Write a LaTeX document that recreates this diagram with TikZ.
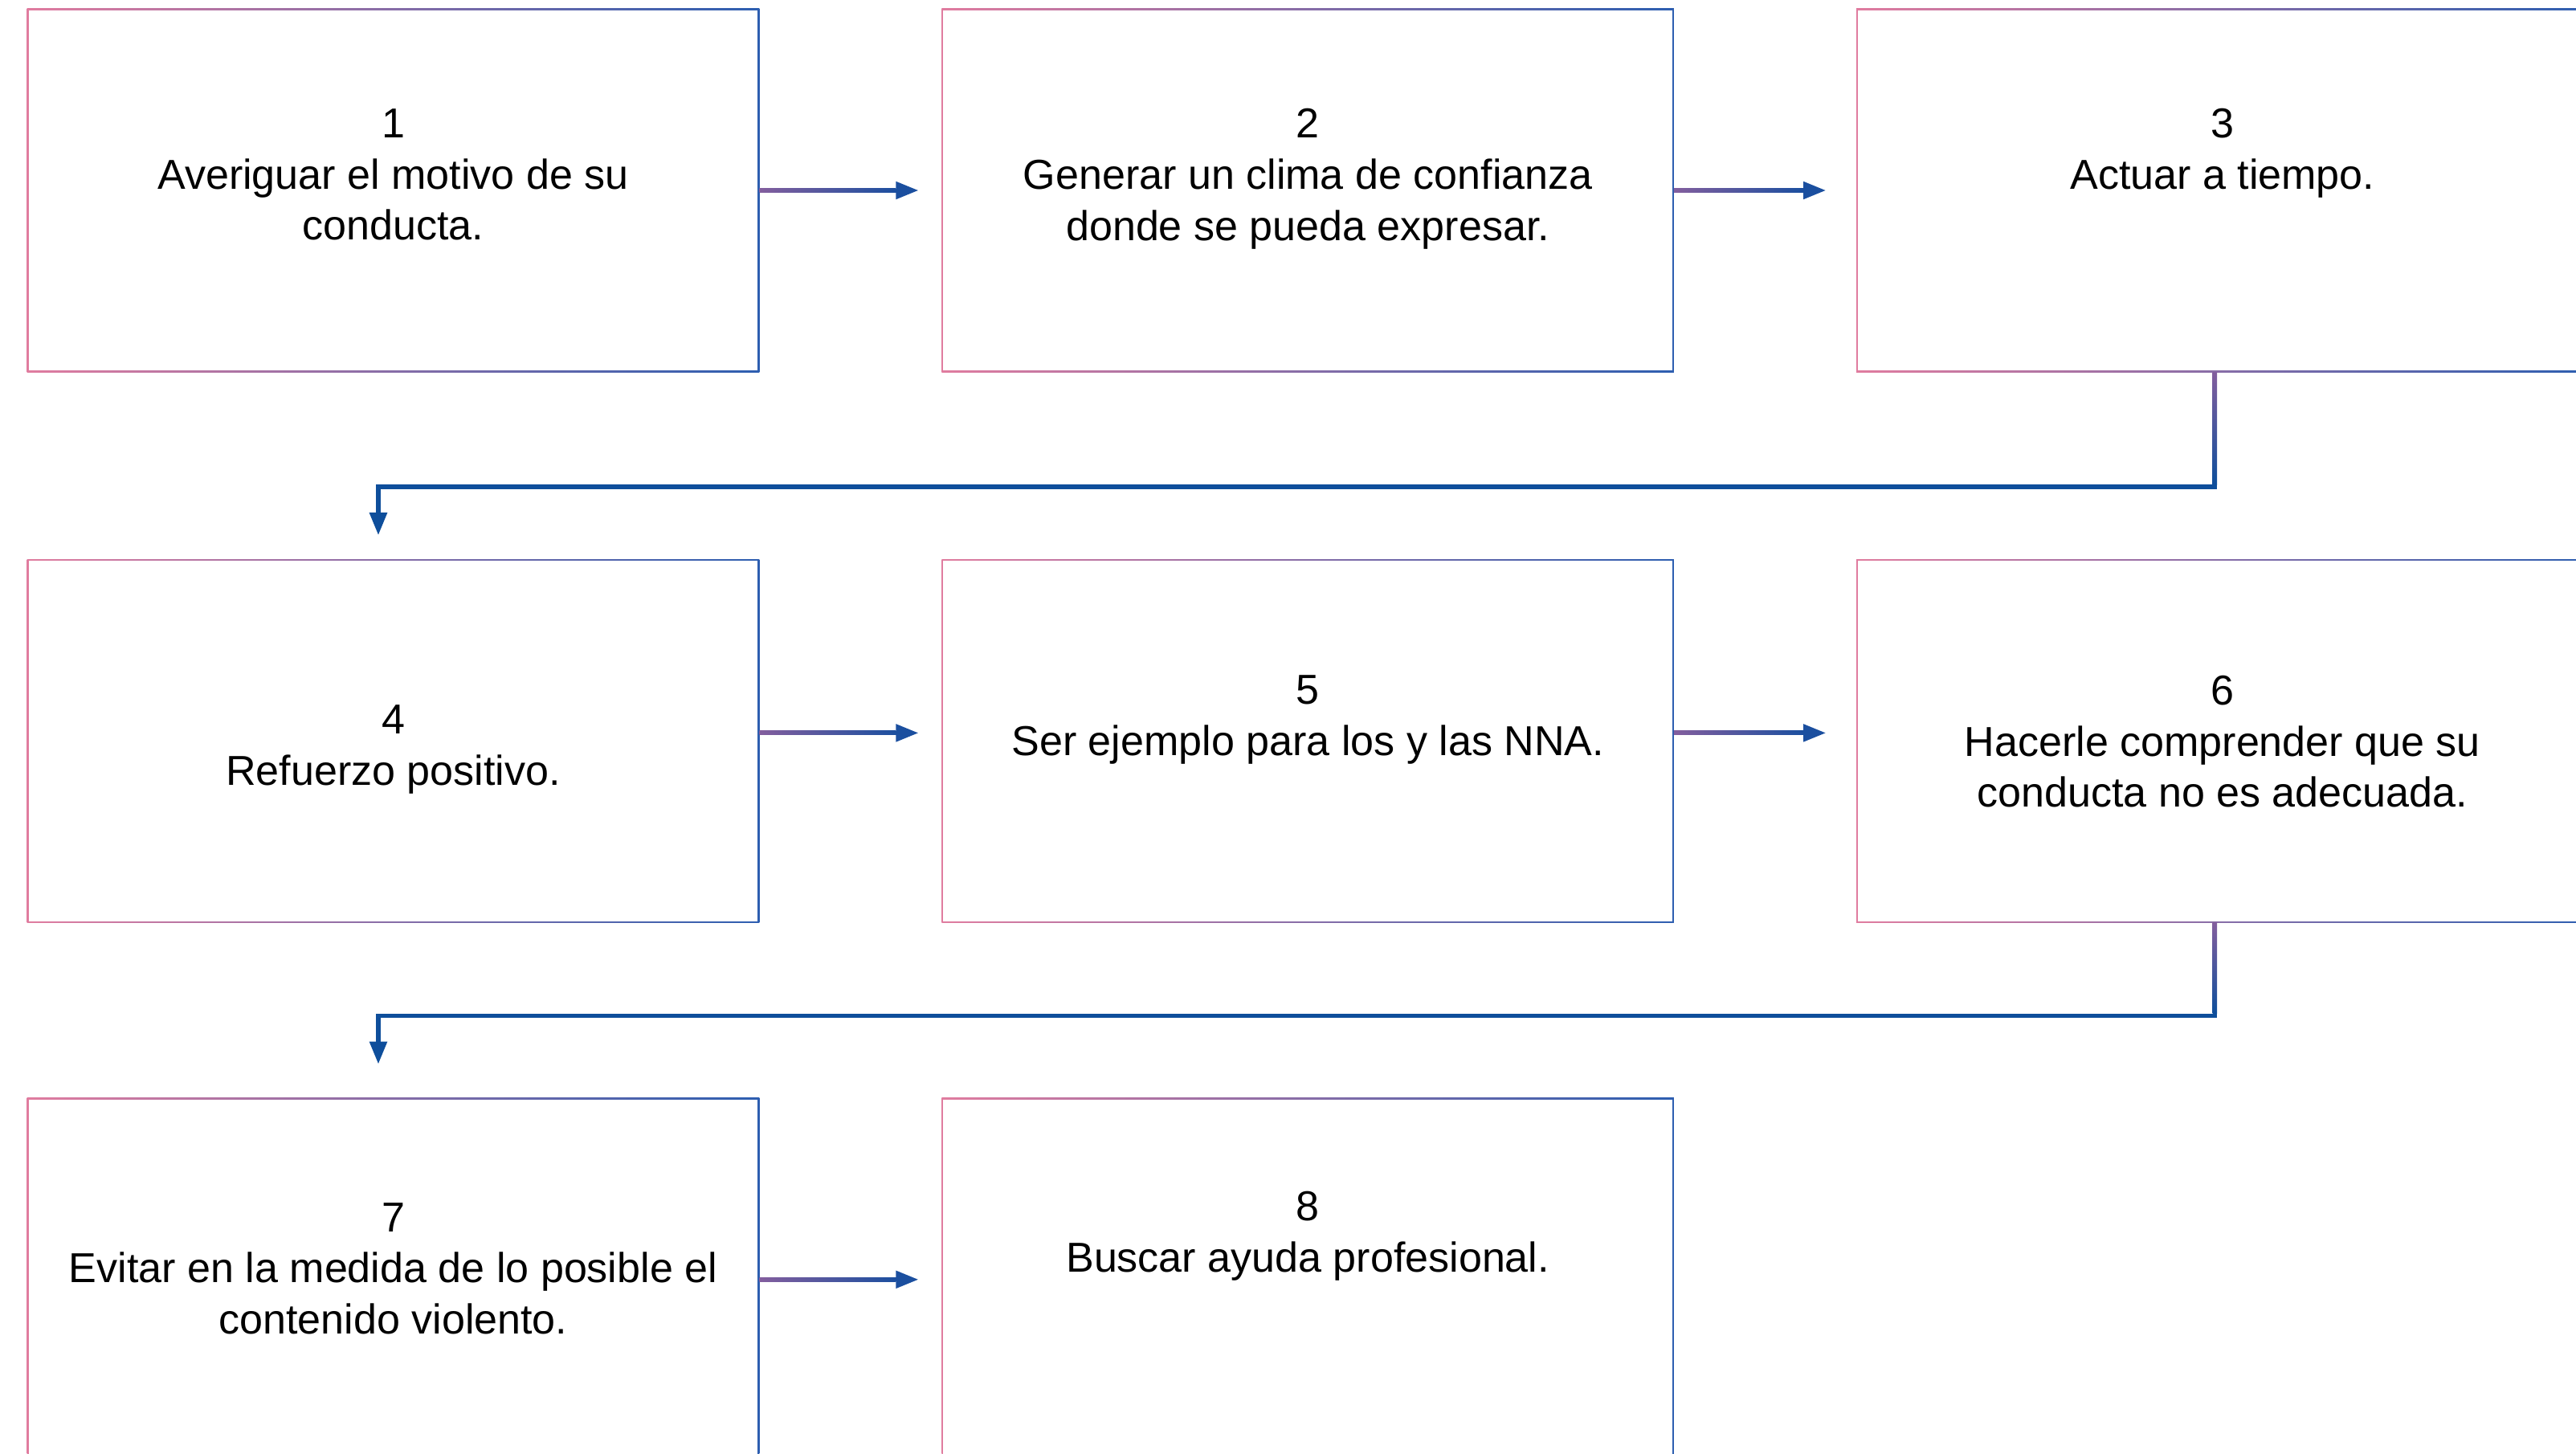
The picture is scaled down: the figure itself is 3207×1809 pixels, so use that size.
\documentclass[tikz,border=0pt]{standalone}
\usepackage{fontspec}
\setmainfont{Liberation Sans}
\usetikzlibrary{positioning,arrows.meta,calc}

\definecolor{edgepink}{HTML}{E07C9F}
\definecolor{edgeblue}{HTML}{2D5EB0}
\definecolor{arrpurple}{HTML}{835E9E}
\definecolor{arrblue}{HTML}{1B4F9F}
\definecolor{linkblue}{HTML}{0E4E9B}

\tikzset{
  stepbox/.style={minimum width=9.11cm, minimum height=4.52cm, inner sep=0pt, outer sep=0pt,
    path picture={
      \shade[left color=edgepink, right color=edgeblue]
        (path picture bounding box.south west) rectangle (path picture bounding box.north east);
      \fill[white] ([shift={(0.02cm,0.02cm)}]path picture bounding box.south west)
        rectangle ([shift={(-0.02cm,-0.02cm)}]path picture bounding box.north east);
    }},
  steptext/.style={align=center, inner sep=0pt, font=\fontsize{14.8}{18.1}\selectfont},
  flow/.style={draw=arrblue, line width=0.05cm, shorten >=0.29cm,
    -{Triangle[length=0.28cm,width=0.21cm]}},
  link/.style={draw=linkblue, line width=0.055cm,
    -{Triangle[length=0.28cm,width=0.21cm]}}
}

\begin{document}
\begin{tikzpicture}[x=0.01cm, y=-0.01cm]
    \useasboundingbox (0,0) rectangle (3207,1809);
    \clip (0,0) rectangle (3207,1809);

    % boxes
    \node[stepbox] (b1) at (489.5,237) {};
    \node[stepbox, right=2.27cm of b1] (b2) {};
    \node[stepbox, right=2.27cm of b2] (b3) {};
    \node[stepbox, below=2.33cm of b1] (b4) {};
    \node[stepbox, right=2.27cm of b4] (b5) {};
    \node[stepbox, right=2.27cm of b5] (b6) {};
    \node[stepbox, below=2.18cm of b4] (b7) {};
    \node[stepbox, right=2.27cm of b7] (b8) {};

    % texts
    \node[steptext, below=1.24cm of b1.north] (t1) {1\\Averiguar el motivo de su\\conducta.};
    \node[steptext, below=1.24cm of b2.north] (t2) {2\\Generar un clima de confianza\\donde se pueda expresar.};
    \node[steptext, below=1.24cm of b3.north] (t3) {3\\Actuar a tiempo.};
    \node[steptext, below=1.81cm of b4.north] (t4) {4\\Refuerzo positivo.};
    \node[steptext, below=1.44cm of b5.north] (t5) {5\\Ser ejemplo para los y las NNA.};
    \node[steptext, below=1.44cm of b6.north] (t6) {6\\Hacerle comprender que su\\conducta no es adecuada.};
    \node[steptext, below=1.30cm of b7.north] (t7) {7\\Evitar en la medida de lo posible el\\contenido violento.};
    \node[steptext, below=1.16cm of b8.north] (t8) {8\\Buscar ayuda profesional.};

    % arrows in a row
    \draw[flow] (b1) -- (b2);
    \shade[left color=arrpurple, right color=arrblue] ([yshift=0.025cm]b1.east) rectangle ([yshift=-0.025cm,xshift=-0.57cm]b2.west);
    \draw[flow, shorten >=0.38cm] (b2) -- (b3);
    \shade[left color=arrpurple, right color=arrblue] ([yshift=0.025cm]b2.east) rectangle ([yshift=-0.025cm,xshift=-0.66cm]b3.west);
    \draw[flow] ([yshift=0.1cm]b4.east) -- ([yshift=0.1cm]b5.west);
    \shade[left color=arrpurple, right color=arrblue] ([yshift=0.125cm]b4.east) rectangle ([yshift=0.075cm,xshift=-0.57cm]b5.west);
    \draw[flow, shorten >=0.38cm] ([yshift=0.1cm]b5.east) -- ([yshift=0.1cm]b6.west);
    \shade[left color=arrpurple, right color=arrblue] ([yshift=0.125cm]b5.east) rectangle ([yshift=0.075cm,xshift=-0.66cm]b6.west);
    \draw[flow] (b7) -- (b8);
    \shade[left color=arrpurple, right color=arrblue] ([yshift=0.025cm]b7.east) rectangle ([yshift=-0.025cm,xshift=-0.57cm]b8.west);

    % links to the next row
    \draw[link, shorten >=0.3cm] ([xshift=-0.095cm]b3.south) |- ([xshift=-0.185cm,yshift=0.9cm]b4.north) -- ([xshift=-0.185cm]b4.north);
    \shade[top color=arrpurple, bottom color=linkblue] ([xshift=-0.1225cm]b3.south) rectangle ([xshift=-0.0675cm,yshift=-1.4cm]b3.south);
    \draw[link, shorten >=0.42cm] ([xshift=-0.095cm]b6.south) |- ([xshift=-0.185cm,yshift=1.02cm]b7.north) -- ([xshift=-0.185cm]b7.north);
    \shade[top color=arrpurple, bottom color=linkblue] ([xshift=-0.1225cm]b6.south) rectangle ([xshift=-0.0675cm,yshift=-1.13cm]b6.south);
\end{tikzpicture}
\end{document}
